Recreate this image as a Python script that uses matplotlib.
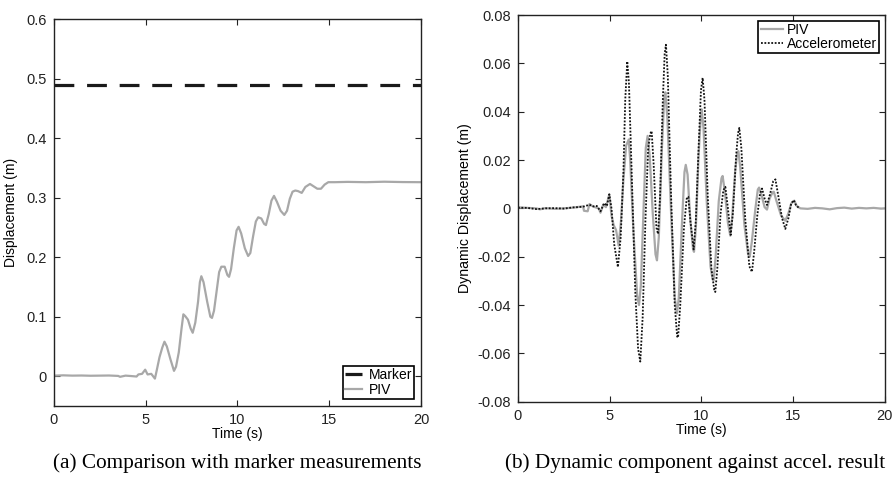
import numpy as np
import matplotlib.pyplot as plt
from matplotlib.ticker import FuncFormatter

plt.rcParams['font.family'] = ['Liberation Sans', 'DejaVu Sans']
plt.rcParams['axes.unicode_minus'] = False

# (a) displacement from PIV
t_disp = [0, 0.5, 1, 1.5, 2, 2.5, 3, 3.5, 3.6, 3.9, 4.2, 4.5, 4.6, 4.8, 4.97, 5.1, 5.3, 5.5,
          5.6, 5.75, 5.9, 6.02, 6.15, 6.35, 6.54, 6.65, 6.8, 6.95, 7.05, 7.15, 7.3, 7.45, 7.56,
          7.7, 7.85, 7.95, 8.03, 8.15, 8.35, 8.52, 8.61, 8.72, 8.85, 9.0, 9.12, 9.3, 9.45, 9.54,
          9.65, 9.8, 9.95, 10.06, 10.2, 10.4, 10.58, 10.7, 10.85, 11.0, 11.13, 11.3, 11.45, 11.55,
          11.7, 11.85, 11.99, 12.15, 12.35, 12.55, 12.7, 12.85, 13.0, 13.15, 13.3, 13.5, 13.7,
          13.95, 14.15, 14.35, 14.55, 14.75, 14.95, 15.3, 16, 17, 18, 19, 20]
piv_disp = [0.001, 0.0015, 0.001, 0.0012, 0.0008, 0.001, 0.0012, 0.0005, -0.001, 0.001, 0.0003,
            -0.0005, 0.003, 0.004, 0.011, 0.003, 0.004, -0.004, 0.01, 0.032, 0.048, 0.058, 0.05,
            0.028, 0.009, 0.016, 0.04, 0.08, 0.104, 0.101, 0.095, 0.08, 0.073, 0.09, 0.125, 0.158,
            0.168, 0.158, 0.125, 0.1, 0.098, 0.11, 0.14, 0.175, 0.184, 0.184, 0.17, 0.167, 0.18,
            0.215, 0.245, 0.251, 0.24, 0.215, 0.202, 0.207, 0.235, 0.26, 0.267, 0.265, 0.256,
            0.254, 0.272, 0.295, 0.303, 0.293, 0.278, 0.271, 0.278, 0.298, 0.31, 0.312, 0.311,
            0.308, 0.318, 0.323, 0.319, 0.315, 0.315, 0.322, 0.326, 0.326, 0.3265, 0.326, 0.3268,
            0.3262, 0.326]
t_marker = [0, 20]
marker_disp = [0.49, 0.49]

# (b) dynamic component
t_piv = [0, 0.5, 1, 1.2, 1.5, 2, 2.5, 3.0, 3.4, 3.55, 3.6, 3.8, 3.9, 4.0, 4.2, 4.4, 4.5, 4.65,
         4.8, 4.98, 5.1, 5.22, 5.35, 5.49, 5.62, 5.75, 5.9, 6.04, 6.12, 6.3, 6.5, 6.6, 6.7, 6.85,
         6.97, 7.07, 7.18, 7.35, 7.5, 7.58, 7.68, 7.85, 7.97, 8.04, 8.15, 8.35, 8.55, 8.67, 8.77,
         8.95, 9.08, 9.15, 9.25, 9.4, 9.55, 9.6, 9.7, 9.85, 9.97, 10.02, 10.12, 10.3, 10.5, 10.62,
         10.67, 10.78, 10.95, 11.1, 11.16, 11.28, 11.45, 11.58, 11.68, 11.85, 11.96, 12.02, 12.12,
         12.35, 12.55, 12.64, 12.75, 12.95, 13.08, 13.15, 13.3, 13.45, 13.58, 13.72, 13.88, 13.95,
         14.1, 14.35, 14.58, 14.75, 14.9, 15.07, 15.2, 15.4, 15.8, 16.2, 16.6, 17.0, 17.4, 17.8,
         18.2, 18.6, 19.0, 19.4, 19.8, 20]
piv_dyn = [0.0004, 0.0002, 0.0, -0.0004, 0.0001, -0.0002, 0.0, 0.0003, 0.0007, 0.0008, -0.001,
           -0.0012, 0.0018, 0.0012, 0.0005, 0.0, -0.0018, 0.0015, 0.0005, 0.0058, -0.003, -0.007,
           -0.009, -0.0154, -0.005, 0.012, 0.026, 0.0285, 0.02, -0.01, -0.036, -0.04, -0.032, 0.0,
           0.025, 0.03, 0.022, -0.002, -0.019, -0.0215, -0.012, 0.025, 0.045, 0.048, 0.037, -0.002,
           -0.037, -0.0435, -0.037, -0.005, 0.015, 0.018, 0.014, -0.005, -0.017, -0.018, -0.008,
           0.022, 0.038, 0.041, 0.033, 0.002, -0.024, -0.0295, -0.0298, -0.02, 0.003, 0.0125,
           0.0134, 0.007, -0.006, -0.0113, -0.004, 0.016, 0.023, 0.0237, 0.017, -0.007, -0.019,
           -0.02, -0.014, 0.0, 0.0078, 0.0086, 0.005, 0.0005, -0.0005, 0.004, 0.0066, 0.0069, 0.003,
           -0.003, -0.0051, -0.002, 0.002, 0.0032, 0.001, 0.0, -0.0002, 0.0002, 0.0, -0.0004,
           0.0001, 0.0003, -0.0001, 0.0002, 0.0, 0.0002, -0.0001, 0.0]
t_acc = [0, 0.5, 1.0, 1.5, 2.0, 2.5, 3.0, 3.3, 3.6, 3.9, 4.1, 4.3, 4.5, 4.7, 4.85, 4.98, 5.1,
         5.25, 5.45, 5.6, 5.75, 5.85, 5.96, 6.05, 6.2, 6.4, 6.55, 6.67, 6.8, 6.95, 7.1, 7.22, 7.29,
         7.4, 7.55, 7.64, 7.75, 7.9, 8.0, 8.07, 8.17, 8.35, 8.55, 8.68, 8.73, 8.85, 9.05, 9.2,
         9.29, 9.4, 9.58, 9.7, 9.85, 9.98, 10.07, 10.17, 10.35, 10.55, 10.7, 10.76, 10.87, 11.05,
         11.2, 11.31, 11.45, 11.6, 11.72, 11.9, 12.0, 12.07, 12.18, 12.4, 12.62, 12.76, 12.88,
         13.05, 13.2, 13.31, 13.45, 13.58, 13.75, 13.92, 14.04, 14.2, 14.4, 14.58, 14.75, 14.9,
         15.04, 15.15, 15.3]
acc_dyn = [0.0003, 0.0002, -0.0003, 0.0, 0.0001, -0.0001, 0.0004, 0.0005, 0.0008, 0.0015, 0.0008,
           0.001, -0.0012, 0.0022, 0.001, 0.0058, 0.0, -0.015, -0.0243, -0.012, 0.015, 0.045,
           0.0608, 0.052, 0.015, -0.035, -0.058, -0.0634, -0.045, -0.005, 0.025, 0.031, 0.032,
           0.018, -0.008, -0.0106, 0.005, 0.045, 0.064, 0.0677, 0.055, 0.005, -0.04, -0.053,
           -0.0535, -0.04, -0.008, 0.004, 0.0048, -0.005, -0.017, -0.005, 0.025, 0.049, 0.054,
           0.045, 0.005, -0.025, -0.0335, -0.0346, -0.025, -0.002, 0.0075, 0.0089, 0.0, -0.011,
           -0.002, 0.022, 0.031, 0.0333, 0.025, -0.005, -0.024, -0.0263, -0.018, -0.003, 0.006,
           0.0082, 0.004, 0.0014, 0.006, 0.0112, 0.012, 0.005, -0.004, -0.0085, -0.004, 0.002,
           0.0034, 0.0015, 0.0003]

gray = '#a8a8a8'
fig = plt.figure(figsize=(8.94, 4.8), dpi=100)
ax1 = fig.add_axes([0.0604, 0.1542, 0.4105, 0.806])
ax2 = fig.add_axes([0.5794, 0.1631, 0.4102, 0.8056])

fmt = FuncFormatter(lambda v, p: '%g' % round(v, 4))

ax1.plot(t_marker, marker_disp, color='#1a1a1a', lw=2.3, ls=(0, (6.2, 4.0)), label='Marker')
ax1.plot(t_disp, piv_disp, color=gray, lw=1.6, label='PIV')
ax1.set_xlim(0, 20)
ax1.set_ylim(-0.05, 0.6)
ax1.set_yticks(np.arange(0, 0.61, 0.1))
ax1.set_ylabel('Displacement (m)', fontsize=10, labelpad=6)
leg1 = ax1.legend(loc='lower right', fontsize=10, fancybox=False, borderaxespad=0.5,
                  handlelength=1.2, handletextpad=0.5, borderpad=0.15, labelspacing=0.05)

ax2.plot(t_piv, piv_dyn, color=gray, lw=1.6, label='PIV')
ax2.plot(t_acc, acc_dyn, color='#111111', lw=1.3, ls=(0, (1, 0.9)), label='Accelerometer')
ax2.set_xlim(0, 20)
ax2.set_ylim(-0.08, 0.08)
ax2.set_yticks(np.arange(-0.08, 0.081, 0.02))
ax2.set_ylabel('Dynamic Displacement (m)', fontsize=10.2, labelpad=4)
leg2 = ax2.legend(loc='upper right', fontsize=10, fancybox=False, borderaxespad=0.4,
                  handlelength=1.6, handletextpad=0.3, borderpad=0.15, labelspacing=0.05)

for ax, leg in ((ax1, leg1), (ax2, leg2)):
    ax.set_xticks([0, 5, 10, 15, 20])
    ax.yaxis.set_major_formatter(fmt)
    ax.set_xlabel('Time (s)', fontsize=10, labelpad=0)
    ax.tick_params(direction='in', top=True, right=True, length=4, width=0.8,
                   labelsize=10.5, colors='#222222', pad=5)
    for s in ax.spines.values():
        s.set_linewidth(1.0)
        s.set_color('#222222')
    fr = leg.get_frame()
    fr.set_edgecolor('black')
    fr.set_linewidth(1.2)
    fr.set_alpha(1)

fig.text(0.265, 0.036, '(a) Comparison with marker measurements', ha='center', va='center',
         family='Liberation Serif', fontsize=15.3)
fig.text(0.778, 0.036, '(b) Dynamic component against accel. result', ha='center', va='center',
         family='Liberation Serif', fontsize=15.3)

fig.savefig('out.png', dpi=100)
